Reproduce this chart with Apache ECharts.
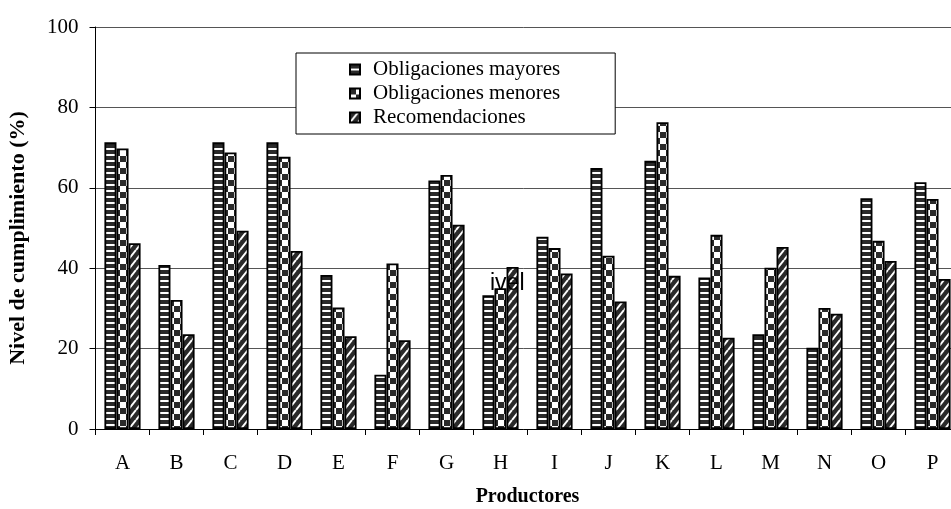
<!DOCTYPE html>
<html>
<head>
<meta charset="utf-8">
<script src="https://cdn.jsdelivr.net/npm/echarts@6/dist/echarts.min.js"></script>
<style>
  html, body { margin: 0; padding: 0; background: #fff; }
  #chart { width: 951px; height: 509px; }
</style>
</head>
<body>
<div id="chart"></div>
<script>
// Producers on the category axis
const productores = ['A', 'B', 'C', 'D', 'E', 'F', 'G', 'H', 'I', 'J', 'K', 'L', 'M', 'N', 'O', 'P'];

// Compliance level (%) per producer and requirement type
const obligacionesMayores = [71.3, 40.8, 71.3, 71.3, 38.3, 13.5, 61.8, 33.3, 47.8, 64.9, 66.7, 37.7, 23.6, 20.2, 57.4, 61.4];
const obligacionesMenores = [69.8, 32.1, 68.8, 67.7, 30.2, 41.2, 63.2, 35.0, 45.0, 43.1, 76.3, 48.3, 40.1, 30.1, 46.8, 57.2];
const recomendaciones     = [46.2, 23.6, 49.3, 44.3, 23.1, 22.1, 50.8, 40.3, 38.7, 31.7, 38.1, 22.7, 45.3, 28.7, 41.8, 37.3];

// Value axis ticks
const yTicks = [0, 20, 40, 60, 80, 100];

const serif = '"Liberation Serif", "Times New Roman", serif';
const dark = '#2a2a2a';

// Small canvas tiles used as fill patterns for the three bar styles
function makeTile(w, h, paint) {
  const c = document.createElement('canvas');
  c.width = w; c.height = h;
  paint(c.getContext('2d'), w, h);
  return c;
}
const stripeTile = makeTile(6, 6, (g) => {
  g.fillStyle = '#fff'; g.fillRect(0, 0, 6, 6);
  g.fillStyle = dark;   g.fillRect(0, 0, 6, 4);
});
const checkerTile = makeTile(12, 12, (g) => {
  g.fillStyle = '#fff'; g.fillRect(0, 0, 12, 12);
  g.fillStyle = dark;   g.fillRect(0, 0, 6, 6); g.fillRect(6, 6, 6, 6);
});
const slashTile = makeTile(8, 10, (g, w, h) => {
  g.fillStyle = dark; g.fillRect(0, 0, w, h);
  g.strokeStyle = '#fff'; g.lineWidth = 2;
  g.beginPath();
  g.moveTo(0, h); g.lineTo(w, 0);
  g.moveTo(-w, h); g.lineTo(0, 0);
  g.moveTo(w, h); g.lineTo(2 * w, 0);
  g.stroke();
});

function patternBar(name, values, tile) {
  return {
    name: name,
    type: 'bar',
    data: values,
    barGap: '0%',
    barCategoryGap: '33%',
    itemStyle: {
      color: { image: tile, repeat: 'repeat' },
      borderColor: '#000',
      borderWidth: 1.8
    }
  };
}

const chart = echarts.init(document.getElementById('chart'), null, { renderer: 'canvas' });

chart.setOption({
  animation: false,
  backgroundColor: '#fff',
  textStyle: { fontFamily: serif, color: '#000' },
  grid: { left: 95.5, right: -8.5, top: 27, bottom: 80, outerBoundsMode: 'none' },
  legend: {
    orient: 'vertical',
    left: 296,
    top: 53,
    padding: [6, 55, 6, 53],
    backgroundColor: '#fff',
    borderColor: '#000',
    borderWidth: 1,
    borderRadius: 0,
    itemWidth: 10,
    itemHeight: 10,
    itemGap: 3,
    icon: 'rect',
    textStyle: { fontFamily: serif, fontSize: 21, color: '#000', lineHeight: 20, padding: [0, 0, 0, 8] },
    data: ['Obligaciones mayores', 'Obligaciones menores', 'Recomendaciones']
  },
  xAxis: {
    type: 'category',
    data: productores,
    axisLine: { lineStyle: { color: '#000', width: 1 } },
    axisTick: { show: true, length: 6, alignWithLabel: false, lineStyle: { color: '#000' } },
    axisLabel: { color: '#000', fontFamily: serif, fontSize: 21, margin: 24 },
    name: 'Productores',
    nameLocation: 'middle',
    nameGap: 58,
    nameTextStyle: { color: '#000', fontFamily: serif, fontSize: 20, fontWeight: 'bold' }
  },
  yAxis: {
    type: 'value',
    min: yTicks[0],
    max: yTicks[yTicks.length - 1],
    interval: yTicks[1] - yTicks[0],
    axisLine: { show: true, lineStyle: { color: '#000', width: 1 } },
    axisTick: { show: true, length: 6, lineStyle: { color: '#000' } },
    axisLabel: { color: '#000', fontFamily: serif, fontSize: 21, margin: 17 },
    splitLine: { show: true, lineStyle: { color: '#555', width: 1 } }
  },
  graphic: [
    {
      type: 'text',
      x: 18,
      y: 238,
      rotation: Math.PI / 2,
      style: {
        text: 'Nivel de cumplimiento (%)',
        fill: '#000',
        font: 'bold 22px ' + serif,
        textAlign: 'center',
        textVerticalAlign: 'middle'
      }
    },
    {
      type: 'text',
      x: 490,
      y: 272,
      z: 100,
      style: {
        text: 'ivel',
        fill: '#000',
        font: '23px "Liberation Sans", Arial, sans-serif'
      }
    }
  ],
  series: [
    patternBar('Obligaciones mayores', obligacionesMayores, stripeTile),
    patternBar('Obligaciones menores', obligacionesMenores, checkerTile),
    patternBar('Recomendaciones', recomendaciones, slashTile)
  ]
});
</script>
</body>
</html>
